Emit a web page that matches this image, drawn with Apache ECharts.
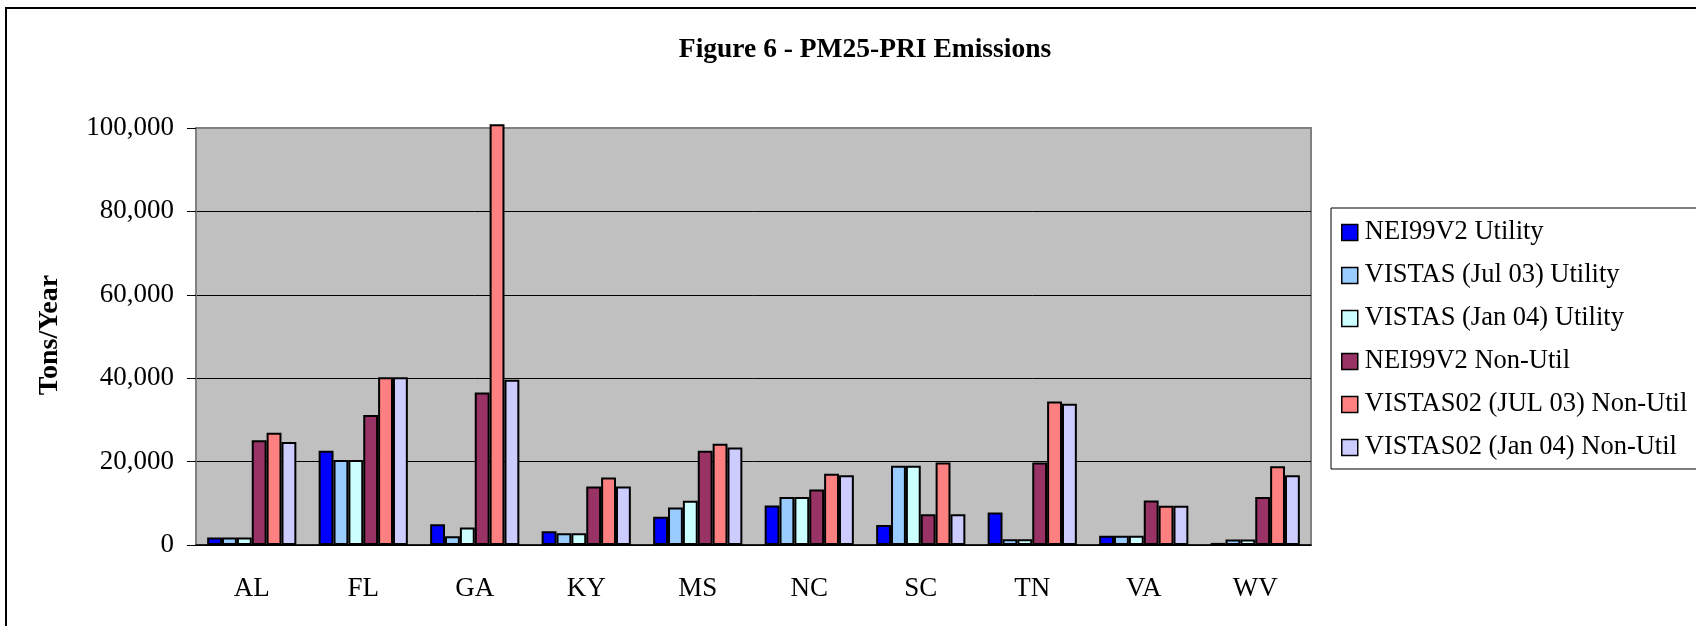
<!DOCTYPE html>
<html>
<head>
<meta charset="utf-8">
<script src="https://cdn.jsdelivr.net/npm/echarts@6/dist/echarts.min.js"></script>
<style>
  html, body { margin: 0; padding: 0; background: #fff; }
  #chart { width: 1696px; height: 626px; }
</style>
</head>
<body>
<div id="chart"></div>
<script>
const states = ['AL', 'FL', 'GA', 'KY', 'MS', 'NC', 'SC', 'TN', 'VA', 'WV']
const seriesNames = [
  'NEI99V2 Utility',
  'VISTAS (Jul 03) Utility',
  'VISTAS (Jan 04) Utility',
  'NEI99V2 Non-Util',
  'VISTAS02 (JUL 03) Non-Util',
  'VISTAS02 (Jan 04) Non-Util'
]
const nei99Utility = [1800, 22600, 5000, 3300, 6800, 9500, 4800, 7800, 2200, 500]
const vistasJul03Utility = [1800, 20400, 2100, 2800, 9000, 11500, 19000, 1400, 2200, 1300]
const vistasJan04Utility = [1800, 20400, 4200, 2800, 10600, 11500, 19000, 1400, 2200, 1300]
const nei99NonUtil = [25100, 31200, 36600, 14000, 22600, 13300, 7400, 19800, 10700, 11500]
const vistasJul03NonUtil = [26900, 40200, 100900, 16200, 24300, 17100, 19800, 34400, 9400, 18900]
const vistasJan04NonUtil = [24700, 40200, 39600, 14000, 23400, 16700, 7400, 33900, 9400, 16700]
const yTicks = [0, 20000, 40000, 60000, 80000, 100000]

const colors = ['#0000FF', '#99CCFF', '#CCFFFF', '#993366', '#FF8080', '#CCCCFF']
const values = [nei99Utility, vistasJul03Utility, vistasJan04Utility, nei99NonUtil, vistasJul03NonUtil, vistasJan04NonUtil]
const serif = "'Liberation Serif', 'Times New Roman', serif"

const chart = echarts.init(document.getElementById('chart'))
chart.setOption({
  animation: false,
  color: colors,
  title: {
    text: 'Figure 6 - PM25-PRI Emissions',
    left: 860,
    top: 31,
    textAlign: 'center',
    textStyle: { fontFamily: serif, fontSize: 27.5, fontWeight: 'bold', color: '#000' }
  },
  graphic: [
    {
      type: 'rect',
      shape: { x: 6, y: 8, width: 2000, height: 1000 },
      style: { fill: 'none', stroke: '#000', lineWidth: 2 },
      silent: true
    },
    {
      type: 'text',
      x: 50,
      y: 335,
      rotation: Math.PI / 2,
      style: {
        text: 'Tons/Year',
        font: 'bold 28px ' + serif,
        fill: '#000',
        align: 'center',
        verticalAlign: 'middle'
      }
    }
  ],
  legend: {
    orient: 'vertical',
    left: 1331,
    top: 208,
    padding: [11, 20, 8, 10],
    itemGap: 16,
    itemWidth: 16,
    itemHeight: 16,
    icon: 'rect',
    borderColor: '#000',
    borderWidth: 1,
    itemStyle: { borderColor: '#000', borderWidth: 1.5 },
    textStyle: { fontFamily: serif, fontSize: 26.5, color: '#000', padding: [0, 0, 0, 2] },
    data: seriesNames
  },
  grid: {
    left: 196,
    right: 385,
    top: 128,
    bottom: 81,
    show: true,
    backgroundColor: '#C0C0C0',
    borderColor: '#808080',
    borderWidth: 2
  },
  xAxis: {
    type: 'category',
    data: states,
    axisLine: { lineStyle: { color: '#000', width: 1.5 } },
    axisTick: { length: 9, lineStyle: { color: '#000' } },
    axisLabel: { margin: 30, fontFamily: serif, fontSize: 27, color: '#000' }
  },
  yAxis: {
    type: 'value',
    min: yTicks[0],
    max: yTicks[yTicks.length - 1],
    interval: 20000,
    axisLine: { show: true, lineStyle: { color: '#808080', width: 2 } },
    axisTick: { show: true, length: 9, lineStyle: { color: '#000' } },
    axisLabel: {
      margin: 22,
      fontFamily: serif,
      fontSize: 27,
      color: '#000',
      formatter: v => v.toLocaleString('en-US')
    },
    splitLine: {
      lineStyle: { color: ['#000', '#000', '#000', '#000', '#000', '#808080'], width: 1 }
    }
  },
  series: seriesNames.map((name, i) => ({
    name,
    type: 'bar',
    data: values[i],
    clip: false,
    barGap: '0%',
    barCategoryGap: '20%',
    itemStyle: { color: colors[i], borderColor: '#000', borderWidth: 2 }
  }))
})
</script>
</body>
</html>
